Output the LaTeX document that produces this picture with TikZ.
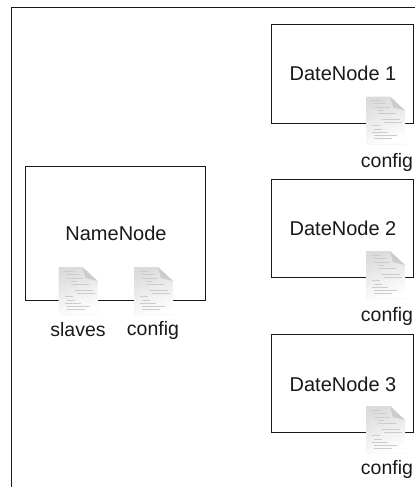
\documentclass[tikz,border=0pt]{standalone}
\usepackage{fontspec}
\setmainfont{Liberation Sans}
\usetikzlibrary{calc}
\colorlet{doctext}{black!20}
\tikzstyle{frame}=[draw=black!90,line width=1.5]
\tikzstyle{hostbox}=[draw=black!90,line width=1.5,fill=white]
\tikzstyle{hostlabel}=[font=\fontsize{20}{22}\selectfont,text=black!90,inner sep=0]
\tikzstyle{filelabel}=[font=\fontsize{19.5}{22}\selectfont,text=black!90,inner sep=0]
\tikzstyle{docline}=[doctext,line width=.7]
% sheet of text, #1 is the upper left corner
\def\docsheet#1{
  \coordinate (D) at (#1);
  \fill[black!3] (D) rectangle ($(D)+(39,48)$);
  \shade[top color=black!14,bottom color=white,shading angle=20]
    (D) -- ++ (24,0) -- ++ (15,14) -- ++ (0,33) -- ++ (-39,0) -- cycle;
  \fill[white] ($(D)+(24,0)$) -- ++ (15,0) -- ++ (0,14) -- cycle;
  \fill[black!20] ($(D)+(24,0)$) -- ++ (3,11) -- ++ (12,3) -- cycle;
  \foreach \y/\a/\b in {4/5/15,7/8/20,11/8/24,14/12/18,17/12/30,23/16/34,26/18/36,29/6/14,
                        33/8/16,36/6/22,39/8/31,42/8/26}{
    \draw[docline] ($(D)+(\a,\y)$) -- ($(D)+(\b,\y)$);
  }
}
\begin{document}
\begin{tikzpicture}[x=1pt,y=-1pt]
  \useasboundingbox (0,0) rectangle (415,487);

  % FRAME
  \draw[frame] (11.5,487) |- (415,7.5);

  % HOSTS
  \draw[hostbox] (25.5,166.5) rectangle (205.5,300.5);
  \draw[hostbox] (271.5,24.5) rectangle (413.5,123.5);
  \draw[hostbox] (271.5,179.5) rectangle (413.5,277.5);
  \draw[hostbox] (271.5,334.5) rectangle (413.5,432.5);

  % FILES
  \docsheet{58.5,267}
  \docsheet{134,267}
  \docsheet{366,96.5}
  \docsheet{366,251}
  \docsheet{366,406}

  % LABELS
  \node[hostlabel] (namenode) at (116,233.5) {NameNode};
  \node[hostlabel] (datenode1) at (343,73) {DateNode 1};
  \node[hostlabel] (datenode2) at (343,228) {DateNode 2};
  \node[hostlabel] (datenode3) at (343,384) {DateNode 3};
  \node[filelabel] (slaves) at (78,330) {slaves};
  \node[filelabel] (config) at (153,330) {config};
  \node[filelabel] (config1) at (387,162) {config};
  \node[filelabel] (config2) at (387,316) {config};
  \node[filelabel] (config3) at (387,469.5) {config};
\end{tikzpicture}
\end{document}
